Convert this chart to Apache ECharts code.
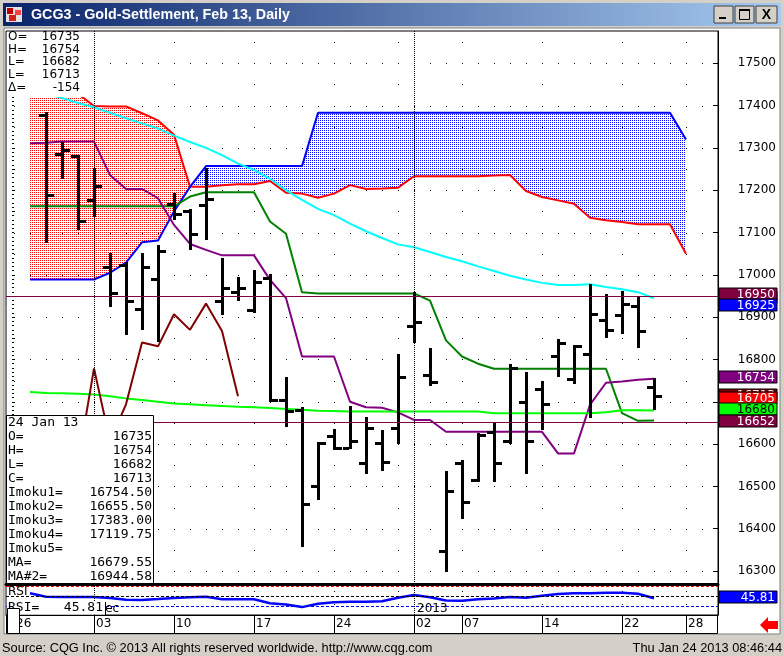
<!DOCTYPE html>
<html>
<head>
<meta charset="utf-8">
<title>GCG3 - Gold-Settlement, Feb 13, Daily</title>
<script src="https://cdn.jsdelivr.net/npm/echarts@6.0.0/dist/echarts.min.js"></script>
<style>
  html, body { margin: 0; padding: 0; background: #d4d0c8; }
  #chart { width: 784px; height: 656px; }
</style>
</head>
<body>
<div id="chart"></div>
<script>
// trading day index: 0 = 26 Nov 2012 (holidays skipped)
const dayTicks = [0, 5, 10, 15, 20, 25, 28, 33, 38, 42];
const dayTickLabels = ['26', '03', '10', '17', '24', '02', '07', '14', '22', '28'];
const weekDays = [0, 10, 15, 20, 24, 28, 33, 38, 42];
const monthDays = [5, 25];
const monthLabels = ['Dec', '2013'];
const priceTicks = [16300, 16400, 16500, 16600, 16700, 16800, 16900, 17000, 17100, 17200, 17300, 17400, 17500];
const rsiTicks = [25, 50];
const rsiLevels = [75, 50, 25];
const hLines = [16950, 16652];
const lastDayLabel = '24 Jan 13';

// OHLC bars, first bar = day 2 (28 Nov)
const barStart = 2;
const opens  = [17378,17286,17281,17177,17019,17023,16919,16989,17167,17150,17166,16939,16960,16917,16993,16704,16681,16500,16619,16590,16555,16602,16638,16880,16763,16348,16556,16514,16628,16607,16699,16730,16809,16754,16813,16894,16905,16926,16735];
const highs  = [17383,17312,17281,17250,17050,17028,17050,17067,17190,17154,17250,17038,16993,17009,17000,16756,16685,16603,16633,16688,16661,16631,16811,16956,16825,16535,16560,16623,16649,16787,16767,16747,16846,16832,16976,16952,16959,16948,16754];
const lows   = [17078,17229,17109,17138,16926,16861,16873,16842,17130,17061,17085,16907,16940,16913,16702,16642,16359,16470,16588,16590,16530,16540,16603,16841,16740,16300,16425,16511,16512,16602,16530,16637,16762,16745,16665,16853,16862,16831,16682];
const closes = [17188,17295,17128,17210,16958,16938,17019,17057,17144,17097,17180,16968,16970,16984,16704,16678,16458,16602,16591,16607,16638,16558,16758,16888,16746,16489,16464,16621,16555,16779,16607,16694,16840,16831,16907,16870,16932,16867,16713];

// studies, first point = day 1 unless noted
const lineStart = 1;
const tenkan = [17311,17312,17315,17315,17315,17236,17203,17203,17181,17118,17073,17059,17046,17046,17046,16988,16945,16807,16807,16807,16700,16687,16686,16675,16657,16657,16629,16629,16629,16629,16629,16629,16629,16578,16578,16693,16745,16748,16752,16754.5];
const kijun = [17162,17162,17162,17162,17162,17162,17162,17162,17162,17162,17185,17195,17195,17195,17195,17126,17097,16959,16956,16956,16956,16956,16956,16956,16956,16939,16845,16807,16790,16778,16778,16778,16778,16778,16778,16778,16778,16673,16655,16655.5];
const spanA = [17443,17443,17443,17428,17399,17398,17398,17382,17365,17331,17208,17208,17212,17214,17214,17222,17194,17192,17182,17192,17212,17203,17204,17206,17233,17233,17233,17233,17233,17235,17236,17198,17184,17176,17168,17135,17129,17125,17119.75,17119.75,17119.75,17050];
const spanB = [16989,16989,16989,16989,16989,17005,17029,17077,17081,17150,17208,17257,17257,17257,17257,17257,17257,17257,17383,17383,17383,17383,17383,17383,17383,17383,17383,17383,17383,17383,17383,17383,17383,17383,17383,17383,17383,17383,17383,17383,17383,17320];
const maFast = [16723,16721,16720,16719,16717,16713,16708,16704,16700,16696,16694,16692,16690,16688,16687,16685,16683,16681,16679,16678,16677,16677,16677,16677,16677,16677,16677,16677,16677,16673,16673,16673,16673,16673,16673,16673,16675,16680,16680,16679.55];
const maSlowStart = 0;
const maSlow = [17451,17440,17430,17418,17406,17396,17383,17370,17358,17346,17329,17314,17300,17283,17263,17248,17227,17200,17177,17156,17141,17121,17103,17087,17072,17065,17054,17042,17032,17020,17009,16998,16989,16981,16976,16976,16978,16971,16966,16959,16944.58];
const rsi = [58,49.5,48.5,49,49,46,42,41.25,43.5,46,48,49.5,43,43,43,33,30,23.5,32,35.5,37,37,38,47,53.5,48,40,39.5,43,45,49,47,52,56.5,58,58,59.5,59.5,57,45.81];
const chikouShift = 26;

// right-hand value tags
const tagValues = [16944.58, 16713, 16950, 16925, 16754, 16705, 16680, 16652];
const tagFills  = ['#00ffff', '#800000', '#800040', '#0000ff', '#800080', '#ff0000', '#00ff00', '#800040'];
const tagInk    = ['#000', '#fff', '#fff', '#fff', '#fff', '#fff', '#000', '#fff'];

const X_MIN = -0.5, X_MAX = 44;
const P_MIN = 16269.3, P_MAX = 17576.3;
const R_MIN = 3.75, R_MAX = 78.75;
const SANS = 'DejaVu Sans';
const MONO = 'DejaVu Sans Mono';
const UI = 'Liberation Sans';

const chart = echarts.init(document.getElementById('chart'), null, { renderer: 'canvas' });

function seq(start, arr) { return arr.map((v, k) => [start + k, v]); }

function dotPattern(color) {
  const c = document.createElement('canvas');
  c.width = 2; c.height = 2;
  const g = c.getContext('2d');
  g.fillStyle = color;
  g.fillRect(0, 0, 1, 1);
  return { image: c, repeat: 'repeat' };
}
const redDots = dotPattern('#ff0000');
const blueDots = dotPattern('#0000ff');

const bars = opens.map((o, k) => [barStart + k, o, highs[k], lows[k], closes[k]]);
// lagging line: each close drawn 26 days back, only where bars exist
const chikou = closes.map((c, k) => [barStart + k - chikouShift, c]).filter(p => p[0] >= barStart);

const cloudSegs = [];
for (let k = 0; k < spanA.length - 1; k++) {
  cloudSegs.push([lineStart + k, spanA[k], spanB[k], spanA[k + 1], spanB[k + 1]]);
}

// dotted grid
const mainDots = [];
for (const lv of priceTicks) for (let d = 0; d <= 43; d++) mainDots.push([d, lv]);
for (const d of weekDays) for (let lv = 16300; lv <= 17550; lv += 50) if (lv % 100) mainDots.push([d, lv]);
const rsiDots = [];
for (const d of weekDays) for (const lv of [32, 63]) rsiDots.push([d, lv]);

const minorTicks = [];
for (let v = 16270; v <= 17570; v += 10) minorTicks.push(v);

function dotItem(params, api) {
  const p = api.coord([api.value(0), api.value(1)]);
  return { type: 'rect', shape: { x: Math.round(p[0]), y: Math.round(p[1]), width: 1, height: 1 }, style: { fill: '#000' } };
}

function cloudItem(params, api) {
  const i = api.value(0);
  const r0 = api.value(1), b0v = api.value(2), r1 = api.value(3), b1v = api.value(4);
  const a0 = api.coord([i, r0]), b0 = api.coord([i, b0v]);
  const a1 = api.coord([i + 1, r1]), b1 = api.coord([i + 1, b1v]);
  const d0 = r0 - b0v, d1 = r1 - b1v;
  const kids = [];
  const poly = (pts, up) => kids.push({ type: 'polygon', shape: { points: pts }, style: { fill: up ? redDots : blueDots } });
  if (d0 * d1 >= 0) {
    poly([a0, a1, b1, b0], d0 + d1 > 0);
  } else {
    const t = d0 / (d0 - d1);
    const cp = [a0[0] + (a1[0] - a0[0]) * t, a0[1] + (a1[1] - a0[1]) * t];
    poly([a0, cp, b0], d0 > 0);
    poly([cp, a1, b1], d1 > 0);
  }
  return { type: 'group', children: kids };
}

function ohlcItem(params, api) {
  const i = api.value(0);
  const o = api.coord([i, api.value(1)]);
  const h = api.coord([i, api.value(2)]);
  const l = api.coord([i, api.value(3)]);
  const c = api.coord([i, api.value(4)]);
  const x = Math.round(h[0]);
  const st = { fill: '#000' };
  return { type: 'group', children: [
    { type: 'rect', shape: { x: x - 1, y: Math.round(h[1]) - 1, width: 3, height: Math.round(l[1] - h[1]) + 2 }, style: st },
    { type: 'rect', shape: { x: x - 7, y: Math.round(o[1]) - 1, width: 6, height: 3 }, style: st },
    { type: 'rect', shape: { x: x + 2, y: Math.round(c[1]) - 1, width: 6, height: 3 }, style: st }
  ] };
}

function tagItem(fills, ink, digits) {
  return function (params, api) {
    const v = api.value(1);
    const p = api.coord([X_MAX, v]);
    const cy = Math.round(p[1] - 1.5);
    const k = params.dataIndex;
    return { type: 'group', children: [
      { type: 'rect', shape: { x: p[0] + 1, y: cy - 6, width: 58, height: 12 }, style: { fill: fills[k], stroke: '#000', lineWidth: 1 } },
      { type: 'text', x: p[0] + 57, y: cy + 1, style: { text: digits ? v.toFixed(digits) : String(Math.round(v)), fill: ink[k], font: '12px ' + SANS, align: 'right', verticalAlign: 'middle' } }
    ] };
  };
}

function lineSeries(start, arr, color, extra) {
  return Object.assign({
    type: 'line', xAxisIndex: 0, yAxisIndex: 0, data: seq(start, arr),
    symbol: 'none', showSymbol: false, silent: true, z: 3,
    lineStyle: { color: color, width: 2 }
  }, extra || {});
}

const noAxis = { axisLine: { show: false }, axisTick: { show: false }, axisLabel: { show: false }, splitLine: { show: false } };

// ---- fixed decorations: window frame, info boxes ----
function txt(x, y, text, font, fill, align, z) {
  return { type: 'text', x: x, y: y, z: z || 60, style: { text: text, font: font, fill: fill || '#000', align: align || 'left', verticalAlign: 'middle' } };
}
const last = opens.length - 1;
const graphics = [
  { type: 'rect', z: -5, shape: { x: 4, y: 28, width: 776, height: 606 }, style: { fill: '#fff', stroke: '#808080', lineWidth: 1 } },
  { type: 'rect', z: 60, shape: { x: 3, y: 3, width: 778, height: 23 },
    style: { fill: new echarts.graphic.LinearGradient(0, 0, 1, 0, [{ offset: 0, color: '#0a246a' }, { offset: 1, color: '#a6caf0' }]) } },
  { type: 'rect', z: 61, shape: { x: 6, y: 7, width: 16, height: 15 }, style: { fill: '#e8e0e0' } },
  { type: 'rect', z: 62, shape: { x: 7, y: 8, width: 6, height: 6 }, style: { fill: '#c00000' } },
  { type: 'rect', z: 62, shape: { x: 15, y: 10, width: 6, height: 5 }, style: { fill: '#ff4040' } },
  { type: 'rect', z: 62, shape: { x: 9, y: 15, width: 7, height: 6 }, style: { fill: '#d02020' } },
  txt(31, 15, 'GCG3 - Gold-Settlement, Feb 13, Daily', 'bold 14.3px ' + UI, '#fff'),
  { type: 'rect', z: 61, shape: { x: 714, y: 6, width: 19, height: 17 }, style: { fill: '#d4d0c8', stroke: '#404040', lineWidth: 1 } },
  { type: 'rect', z: 61, shape: { x: 735, y: 6, width: 19, height: 17 }, style: { fill: '#d4d0c8', stroke: '#404040', lineWidth: 1 } },
  { type: 'rect', z: 61, shape: { x: 756, y: 6, width: 21, height: 17 }, style: { fill: '#d4d0c8', stroke: '#404040', lineWidth: 1 } },
  { type: 'rect', z: 62, shape: { x: 719, y: 17, width: 7, height: 2 }, style: { fill: '#000' } },
  { type: 'rect', z: 62, shape: { x: 739.5, y: 9.5, width: 10, height: 10 }, style: { fill: 'none', stroke: '#000', lineWidth: 1 } },
  { type: 'rect', z: 62, shape: { x: 739, y: 9, width: 11, height: 2 }, style: { fill: '#000' } },
  txt(766.5, 15, 'X', 'bold 14px ' + UI, '#000', 'center', 62),

  // top-left quote box
  { type: 'rect', z: 50, shape: { x: 7, y: 32, width: 81, height: 65 }, style: { fill: '#fff' } },
  txt(8, 37, 'O=', '12px ' + SANS), txt(80, 37, String(opens[last]), '12px ' + SANS, '#000', 'right'),
  txt(8, 50, 'H=', '12px ' + SANS), txt(80, 50, String(highs[last]), '12px ' + SANS, '#000', 'right'),
  txt(8, 62, 'L=', '12px ' + SANS), txt(80, 62, String(lows[last]), '12px ' + SANS, '#000', 'right'),
  txt(8, 75, 'L=', '12px ' + SANS), txt(80, 75, String(closes[last]), '12px ' + SANS, '#000', 'right'),
  txt(8, 88, '\u0394=', '12px ' + SANS), txt(80, 88, String(closes[last] - closes[last - 1]), '12px ' + SANS, '#000', 'right'),

  // bottom-left cursor box
  { type: 'rect', z: 50, shape: { x: 6.5, y: 415.5, width: 147, height: 168 }, style: { fill: '#fff', stroke: '#000', lineWidth: 1 } }
];
const boxRows = [
  [lastDayLabel, ''],
  ['O=', String(opens[last])], ['H=', String(highs[last])], ['L=', String(lows[last])], ['C=', String(closes[last])],
  ['Imoku1=', tenkan[tenkan.length - 1].toFixed(2)], ['Imoku2=', kijun[kijun.length - 1].toFixed(2)],
  ['Imoku3=', spanB[last + barStart - lineStart].toFixed(2)], ['Imoku4=', spanA[last + barStart - lineStart].toFixed(2)],
  ['Imoku5=', ''], ['MA=', maFast[maFast.length - 1].toFixed(2)], ['MA#2=', maSlow[maSlow.length - 1].toFixed(2)]
];
boxRows.forEach((r, k) => {
  graphics.push(txt(8, 423 + k * 14, r[0], '13px ' + MONO));
  if (r[1]) graphics.push(txt(152, 423 + k * 14, r[1], '13px ' + MONO, '#000', 'right'));
});
graphics.push(
  // rsi panel captions
  txt(8, 592, 'RSI', '12px ' + SANS, '#000', 'left', 40),
  txt(96, 609, monthLabels[0], '12px ' + SANS, '#000', 'left', 40),
  txt(417, 609, monthLabels[1], '12px ' + SANS, '#000', 'left', 40),
  { type: 'rect', z: 50, shape: { x: 7, y: 602, width: 98, height: 12.5 }, style: { fill: '#fff' } },
  { type: 'line', z: 51, shape: { x1: 105.5, y1: 602, x2: 105.5, y2: 615 }, style: { stroke: '#000', lineWidth: 1 } },
  txt(8, 608, 'RSI=', '13px ' + MONO, '#000', 'left', 52),
  txt(103, 608, rsi[rsi.length - 1].toFixed(2), '13px ' + MONO, '#000', 'right', 52),
  // x-axis strip frame
  { type: 'rect', z: 45, shape: { x: 6.5, y: 615.5, width: 711, height: 18 }, style: { fill: 'none', stroke: '#000', lineWidth: 1 } },
  { type: 'rect', z: 55, shape: { x: 7.5, y: 608.5, width: 12, height: 25 }, style: { fill: '#fff', stroke: '#000', lineWidth: 1 } },
  { type: 'polygon', z: 55, shape: { points: [[760, 625], [768, 617], [768, 621], [778, 621], [778, 629], [768, 629], [768, 633]] }, style: { fill: '#ff0000' } },
  // status bar
  txt(2, 648, 'Source: CQG Inc. \u00a9 2013 All rights reserved worldwide. http://www.cqg.com', '12.8px ' + UI, '#000', 'left', 60),
  txt(782, 648, 'Thu Jan 24 2013 08:46:44', '12.8px ' + UI, '#000', 'right', 60)
);

const option = {
  animation: false,
  backgroundColor: '#d4d0c8',
  grid: [
    { left: 6, right: 66, top: 31, height: 553, show: true, backgroundColor: '#fff', borderColor: '#000', borderWidth: 1 },
    { left: 6, right: 66, top: 585, height: 30, show: true, backgroundColor: '#fff', borderColor: '#000', borderWidth: 1 }
  ],
  xAxis: [
    Object.assign({ type: 'value', gridIndex: 0, min: X_MIN, max: X_MAX }, noAxis,
      { axisLine: { show: true, onZero: false, lineStyle: { color: '#000', width: 3 } } }),
    { type: 'value', gridIndex: 1, min: X_MIN, max: X_MAX,
      axisLine: { show: true, onZero: false, lineStyle: { color: '#000', width: 1 } },
      axisTick: { show: true, customValues: dayTicks, length: 18, lineStyle: { color: '#000', width: 1 } },
      axisLabel: { customValues: dayTicks, formatter: v => dayTickLabels[dayTicks.indexOf(v)],
        align: 'left', margin: 3, padding: [0, 0, 0, 2], color: '#000', fontFamily: SANS, fontSize: 12 },
      splitLine: { show: false } }
  ],
  yAxis: [
    { type: 'value', gridIndex: 0, position: 'right', min: P_MIN, max: P_MAX,
      axisLine: { show: true, onZero: false, lineStyle: { color: '#000' } },
      axisTick: { show: true, inside: true, length: 5, customValues: priceTicks, lineStyle: { color: '#000' } },
      axisLabel: { customValues: priceTicks, formatter: v => String(v), align: 'right', margin: 58,
        color: '#000', fontFamily: SANS, fontSize: 12 },
      splitLine: { show: false } },
    Object.assign({ type: 'value', gridIndex: 0, position: 'right', min: P_MIN, max: P_MAX }, noAxis,
      { axisTick: { show: true, inside: true, length: 2, customValues: minorTicks, lineStyle: { color: '#000' } } }),
    { type: 'value', gridIndex: 1, position: 'right', min: R_MIN, max: R_MAX,
      axisLine: { show: true, onZero: false, lineStyle: { color: '#000' } },
      axisTick: { show: false },
      axisLabel: { customValues: rsiTicks, formatter: v => String(v), align: 'right', margin: 34,
        color: '#000', fontFamily: SANS, fontSize: 12 },
      splitLine: { show: false } }
  ],
  graphic: { elements: graphics },
  series: [
    { type: 'custom', xAxisIndex: 0, yAxisIndex: 0, data: mainDots, renderItem: dotItem, silent: true, z: 1 },
    { type: 'custom', xAxisIndex: 1, yAxisIndex: 2, data: rsiDots, renderItem: dotItem, silent: true, z: 1 },
    { type: 'custom', xAxisIndex: 0, yAxisIndex: 0, data: cloudSegs, renderItem: cloudItem, silent: true, z: 2 },
    lineSeries(lineStart, spanA, '#ff0000'),
    lineSeries(lineStart, spanB, '#0000ff'),
    lineSeries(maSlowStart, maSlow, '#00ffff'),
    lineSeries(lineStart, kijun, '#008000'),
    lineSeries(lineStart, tenkan, '#800080', {
      markLine: { silent: true, symbol: 'none', animation: false, label: { show: false },
        lineStyle: { color: '#000', width: 1, type: [1, 1] },
        data: monthDays.map(d => ({ xAxis: d })) }
    }),
    lineSeries(lineStart, maFast, '#00ff00', {
      markLine: { silent: true, symbol: 'none', animation: false, label: { show: false },
        lineStyle: { color: '#800040', width: 1, type: 'solid' },
        data: hLines.map(v => ({ yAxis: v })) }
    }),
    { type: 'line', xAxisIndex: 0, yAxisIndex: 0, data: chikou, symbol: 'none', showSymbol: false, silent: true, z: 3,
      lineStyle: { color: '#800000', width: 2 } },
    { type: 'custom', xAxisIndex: 0, yAxisIndex: 0, data: bars, renderItem: ohlcItem, silent: true, z: 4 },
    { type: 'line', xAxisIndex: 1, yAxisIndex: 2, data: seq(lineStart, rsi), symbol: 'none', showSymbol: false, silent: true, z: 4,
      lineStyle: { color: '#0000ff', width: 2.5 },
      markLine: { silent: true, symbol: 'none', animation: false, label: { show: false },
        data: [
          { yAxis: rsiLevels[0], lineStyle: { color: '#ff0000', width: 1, type: [3, 2] } },
          { yAxis: rsiLevels[1], lineStyle: { color: '#000', width: 1, type: [3, 2] } },
          { yAxis: rsiLevels[2], lineStyle: { color: '#0000ff', width: 1, type: [3, 2] } }
        ].concat(monthDays.map(d => ({ xAxis: d, lineStyle: { color: '#000', width: 1, type: [1, 1] } }))) } },
    { type: 'custom', xAxisIndex: 0, yAxisIndex: 0, clip: false, z: 20, silent: true,
      data: tagValues.map(v => [X_MAX, v]), renderItem: tagItem(tagFills, tagInk, 0) },
    { type: 'custom', xAxisIndex: 1, yAxisIndex: 2, clip: false, z: 20, silent: true,
      data: [[X_MAX, rsi[rsi.length - 1]]], renderItem: tagItem(['#0000ff'], ['#fff'], 2) }
  ]
};

chart.setOption(option);
</script>
</body>
</html>
